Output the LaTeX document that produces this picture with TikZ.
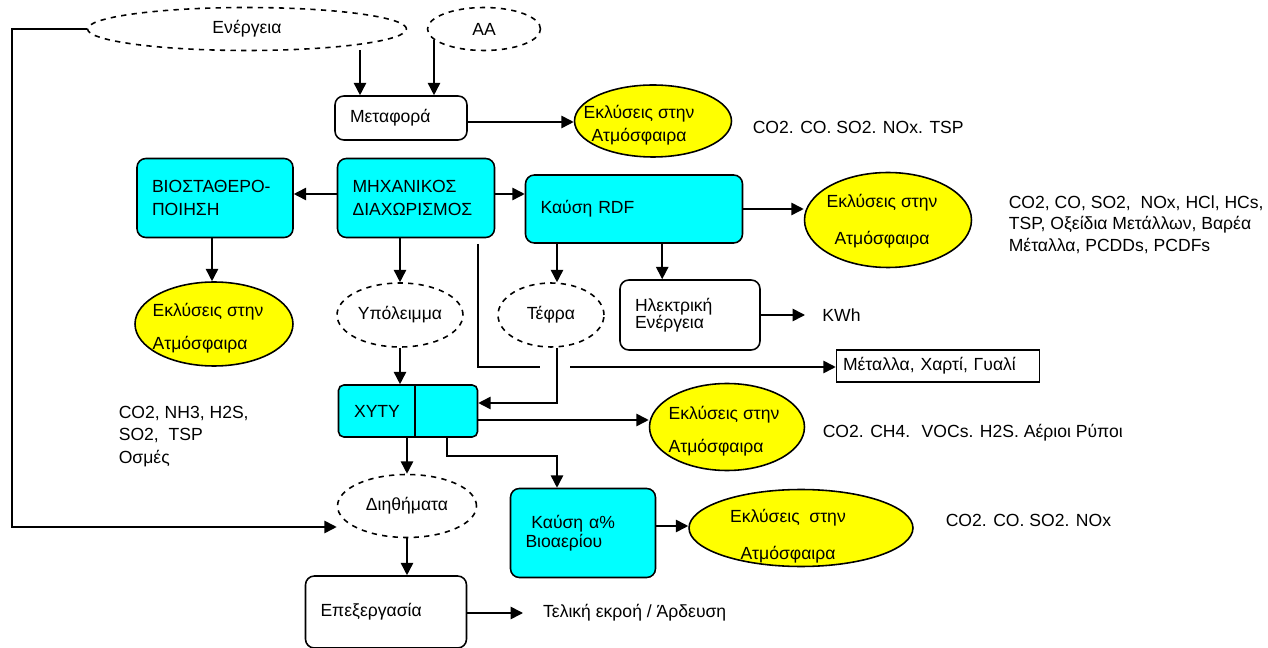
\documentclass[tikz,border=0pt]{standalone}
\usepackage{fontspec}
\setmainfont{Liberation Sans}
\usetikzlibrary{arrows.meta, shapes.geometric}

\definecolor{boxcyan}{RGB}{0,255,255}
\definecolor{gasyellow}{RGB}{255,255,0}

\tikzset{
  arr/.style={-{Triangle[length=7pt,width=7pt]}},
  txt/.style={font=\fontsize{10}{12}\selectfont},
  cyanbox/.style={draw, fill=boxcyan, rounded corners=5pt, txt, align=left, inner xsep=0.3cm},
  whitebox/.style={draw, fill=white, rounded corners=5pt, txt, align=left, inner xsep=0.3cm},
  gasell/.style={draw, ellipse, fill=gasyellow, inner sep=0pt},
  dashell/.style={draw, dashed, ellipse, txt, align=center, inner sep=0pt}
}

\begin{document}
\begin{tikzpicture}[x=0.02cm, y=-0.02cm, line width=0.9pt]
  \useasboundingbox (0,0) rectangle (1268,648);
  % inputs
  \node[dashell, minimum width=6.38cm, minimum height=0.86cm] (ener) at (247,29) {Ενέργεια};
  \node[dashell, minimum width=2.26cm, minimum height=0.86cm] (aa) at (484,29) {ΑΑ};
  \node[whitebox, minimum width=2.64cm, minimum height=0.88cm, text width=2.04cm] (meta) at (401,118) {Μεταφορά};
  \node[gasell, minimum width=3.14cm, minimum height=1.44cm] (ekl1) at (653,121) {};
  \node[txt, align=center] (ekl1t) at (639,125) {Εκλύσεις στην\\[1pt]Ατμόσφαιρα};
  \node[txt, anchor=west, inner sep=0pt] (em1) at (752,127) {CO2. CO. SO2. NOx. TSP};

  % second row
  \node[cyanbox, minimum width=3.12cm, minimum height=1.58cm, text width=2.52cm] (bio) at (215,198) {ΒΙΟΣΤΑΘΕΡΟ-\\[1.5pt]ΠΟΙΗΣΗ};
  \node[cyanbox, minimum width=3.14cm, minimum height=1.58cm, text width=2.54cm] (mech) at (416,198) {ΜΗΧΑΝΙΚΟΣ\\[1.5pt]ΔΙΑΧΩΡΙΣΜΟΣ};
  \node[cyanbox, minimum width=4.34cm, minimum height=1.36cm, text width=3.74cm] (rdf) at (634,209) {Καύση RDF\\[8pt]};
  \node[gasell, minimum width=3.34cm, minimum height=1.9cm] (ekl2) at (888,220) {};
  \node[txt, align=center] (ekl2t) at (882,221) {Εκλύσεις στην\\[9pt]Ατμόσφαιρα};
  \node[txt, anchor=north west, align=left, inner sep=0pt, font=\fontsize{10}{12.2}\selectfont] (em2) at (1008,195) {CO2, CO, SO2,~ NOx, HCl, HCs,\\TSP, Οξείδια Μετάλλων, Βαρέα\\Μέταλλα, PCDDs, PCDFs};

  % third row
  \node[gasell, minimum width=3.16cm, minimum height=1.68cm] (ekl3) at (214,324) {};
  \node[txt, align=left, anchor=west] (ekl3t) at (146,328) {Εκλύσεις στην\\[6.5pt]Ατμόσφαιρα};
  \node[dashell, minimum width=2.52cm, minimum height=1.28cm] (ypo) at (400,315) {Υπόλειμμα};
  \node[dashell, minimum width=2.12cm, minimum height=1.28cm] (tefra) at (551,315) {Τέφρα};
  \node[whitebox, minimum width=2.8cm, minimum height=1.4cm, text width=2.2cm, font=\fontsize{10}{10}\selectfont] (ilek) at (690,315) {Ηλεκτρική\\Ενέργεια};
  \node[txt, anchor=west, inner xsep=9.5pt] (kwh) at (805,315) {KWh};
  \node[draw, rectangle, txt, minimum width=4.06cm, minimum height=0.64cm, text width=3.8cm, align=left] (metal) at (938,366) {Μέταλλα, Χαρτί, Γυαλί};

  % landfill
  \node[cyanbox, minimum width=2.78cm, minimum height=1.04cm, rounded corners=3pt] (xyty) at (408,411) {};
  \node[txt] (xytyl) at (377,411) {ΧΥΤΥ};
  \draw (xyty.north -| 415,0) -- (xyty.south -| 415,0);
  \node[gasell, minimum width=3.1cm, minimum height=1.74cm] (ekl4) at (727,427) {};
  \node[txt, align=left, anchor=west] (ekl4t) at (662,431) {Εκλύσεις στην\\[6.5pt]Ατμόσφαιρα};
  \node[txt, anchor=west, inner sep=0pt] (em4) at (822,433) {CO2. CH4.~ VOCs. H2S. Αέριοι Ρύποι};
  \node[txt, anchor=north west, align=left, inner sep=0pt, font=\fontsize{10}{13}\selectfont] (emL) at (118,405) {CO2, NH3, H2S,\\SO2,~ TSP\\Οσμές};

  % bottom
  \node[dashell, minimum width=2.78cm, minimum height=1.26cm] (dii) at (407,506) {Διηθήματα};
  \node[cyanbox, minimum width=2.9cm, minimum height=1.78cm, text width=2.3cm, font=\fontsize{10}{11}\selectfont] (kab) at (583,533) {~Καύση α\%\\Βιοαερίου};
  \node[gasell, minimum width=4.48cm, minimum height=1.54cm] (ekl5) at (801,528) {};
  \node[txt, align=center] (ekl5t) at (788,536) {Εκλύσεις~ στην\\[9pt]Ατμόσφαιρα};
  \node[txt, anchor=west, inner sep=0pt] (em5) at (945,520) {CO2. CO. SO2. NOx};
  \node[whitebox, minimum width=3.22cm, minimum height=1.44cm, text width=2.62cm] (epe) at (386,612) {Επεξεργασία};
  \node[txt, anchor=west, inner xsep=11pt] (tel) at (523,613) {Τελική εκροή / Άρδευση};

  % connectors
  \coordinate (e1) at (360,50);
  \coordinate (a1) at (434,40);
  \draw[arr] (e1) -- (e1 |- meta.north);
  \draw[arr] (a1) -- (a1 |- meta.north);
  \coordinate (mo) at ([yshift=-0.08cm]meta.east);
  \draw[arr] (mo) -- (mo -| ekl1.west);
  \coordinate (ml) at ([yshift=0.08cm]mech.west);
  \draw[arr] (ml) -- (ml -| bio.east);
  \coordinate (mr) at ([yshift=0.08cm]mech.east);
  \draw[arr] (mr) -- (mr -| rdf.west);
  \draw[arr] (rdf.east) -- (rdf.east -| ekl2.west);
  \coordinate (bo) at ([xshift=-0.06cm]bio.south);
  \draw[arr] (bo) -- (bo |- ekl3.north);
  \draw[arr] (ypo.north |- mech.south) -- (ypo.north);
  \coordinate (tin) at ([xshift=0.12cm]tefra.north);
  \draw[arr] (tin |- rdf.south) -- (tin);
  \coordinate (ilin) at ([xshift=0.86cm]ilek.north west);
  \draw[arr] (ilin |- rdf.south) -- (ilin);
  \draw[arr] (ilek.east) -- (kwh.west);
  \coordinate (m1) at (478,244);
  \coordinate (gapL) at (540,367);
  \coordinate (gapR) at (570,367);
  \draw (m1) |- (gapL);
  \draw[arr] (gapR) -- (gapR -| metal.west);
  \coordinate (tout) at ([xshift=0.12cm]tefra.south);
  \draw[arr] (tout) |- ([yshift=0.16cm]xyty.east);
  \draw[arr] (ypo.south) -- (ypo.south |- xyty.north);
  \coordinate (xo) at ([yshift=-0.18cm]xyty.east);
  \draw[arr] (xo) -- (xo -| ekl4.west);
  \draw[arr] (xyty.south -| dii.north) -- (dii.north);
  \coordinate (xb) at ([xshift=0.78cm]xyty.south);
  \draw[arr] (xb) -- ++(0,18) -| (tout |- kab.north);
  \coordinate (ko) at ([yshift=0.14cm]kab.east);
  \draw[arr] (ko) -- (ko -| ekl5.west);
  \draw[arr] (dii.south) -- (dii.south |- epe.north);
  \draw[arr] (epe.east |- tel.west) -- (tel.west);
  \coordinate (loop) at (12,0);
  \coordinate (diin) at ([yshift=-0.42cm]dii.west);
  \draw[arr] (ener.west) -- (ener.west -| loop) |- (diin);
\end{tikzpicture}
\end{document}
